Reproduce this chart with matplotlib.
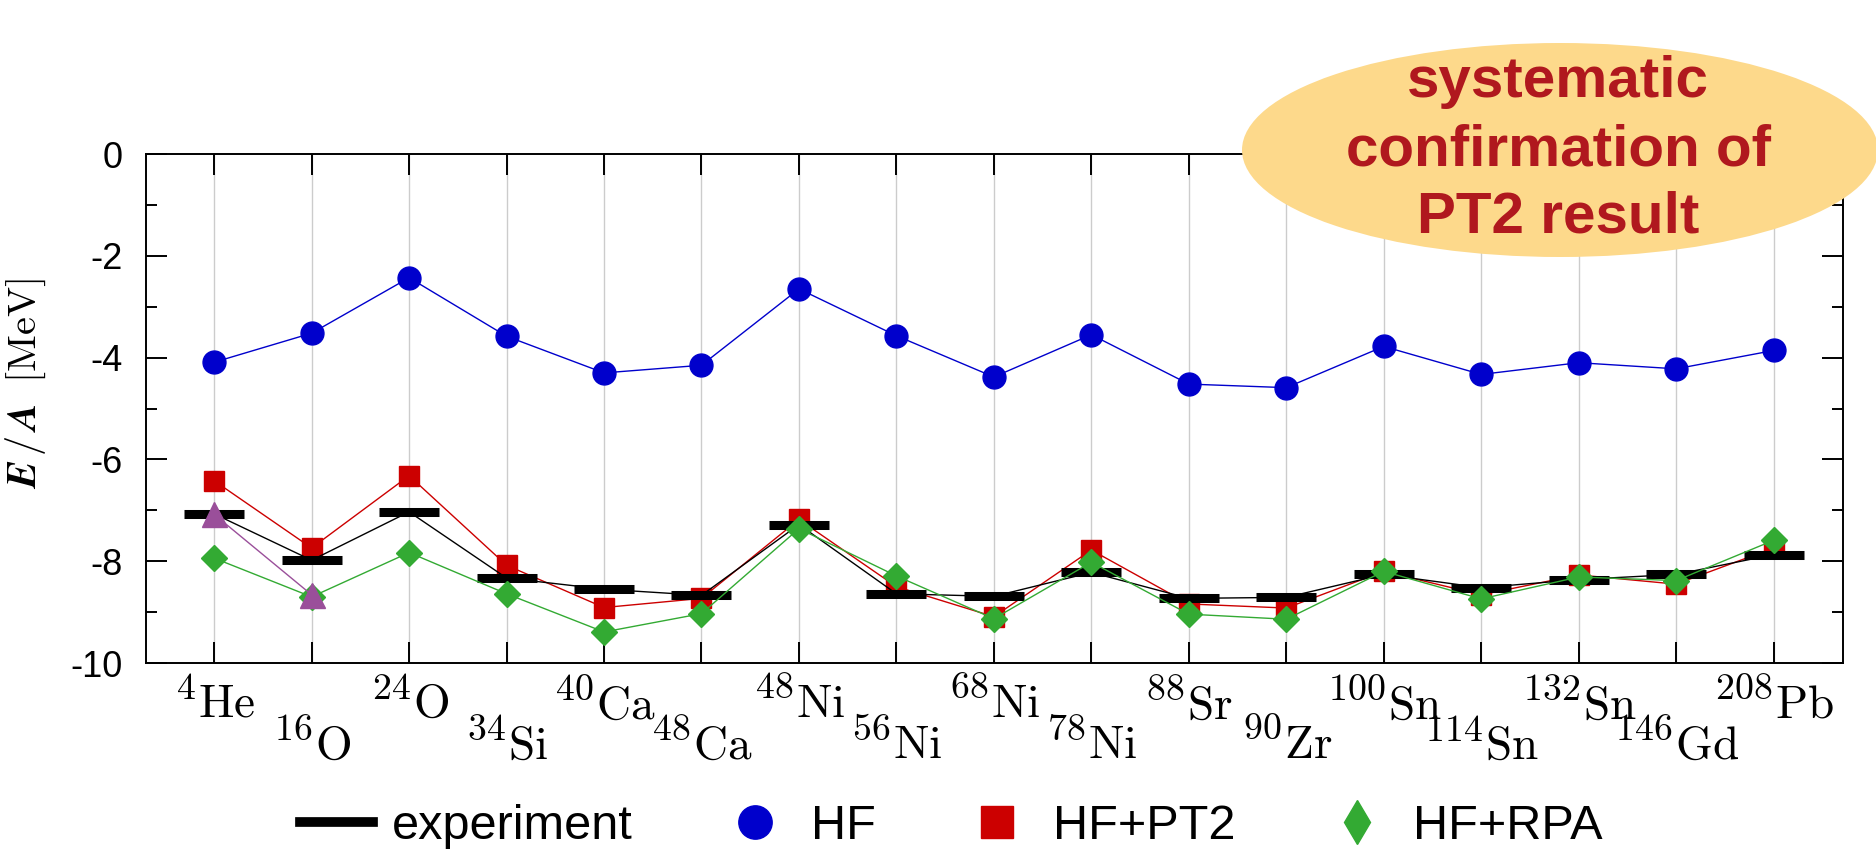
import numpy as np
import matplotlib
matplotlib.use("Agg")
import matplotlib.pyplot as plt
import matplotlib._mathtext as mathtext_internal
from matplotlib.lines import Line2D
from matplotlib.patches import Ellipse

plt.rcParams['font.family'] = ['Liberation Sans', 'DejaVu Sans']
plt.rcParams['mathtext.fontset'] = 'cm'
plt.rcParams['axes.unicode_minus'] = False
# mass numbers are drawn rather large in the original
mathtext_internal.SHRINK_FACTOR = 0.8

# nuclei on the x axis
mass = ['4', '16', '24', '34', '40', '48', '48', '56', '68', '78', '88', '90', '100', '114', '132', '146', '208']
elem = ['He', 'O', 'O', 'Si', 'Ca', 'Ca', 'Ni', 'Ni', 'Ni', 'Ni', 'Sr', 'Zr', 'Sn', 'Sn', 'Sn', 'Gd', 'Pb']

# energy per nucleon [MeV]
exp_vals = [-7.07, -7.98, -7.03, -8.33, -8.55, -8.67, -7.28, -8.64, -8.69, -8.22, -8.73, -8.71, -8.26, -8.52, -8.36, -8.26, -7.87]
hf_vals = [-4.09, -3.52, -2.43, -3.58, -4.30, -4.15, -2.65, -3.57, -4.38, -3.55, -4.52, -4.59, -3.78, -4.33, -4.10, -4.22, -3.86]
pt2_vals = [-6.42, -7.74, -6.32, -8.08, -8.91, -8.73, -7.18, -8.50, -9.09, -7.78, -8.84, -8.92, -8.20, -8.66, -8.27, -8.45, -7.74]
rpa_vals = [-7.94, -8.70, -7.83, -8.64, -9.39, -9.03, -7.36, -8.29, -9.13, -8.02, -9.04, -9.14, -8.20, -8.74, -8.31, -8.38, -7.59]
# extra calculation only for the two lightest nuclei
extra_idx = [0, 1]
extra_vals = [-7.08, -8.66]

labels = [r'$^{\mathbf{%s}}\mathrm{%s}$' % (m, e) for m, e in zip(mass, elem)]
x = np.arange(len(labels))

fig = plt.figure(figsize=(18.76, 8.51), dpi=100)
ax = fig.add_axes([0.0778, 0.2209, 0.9045, 0.5981])

ax.plot(x, pt2_vals, color='#CC0000', lw=1.0, marker='s', ms=14.4, zorder=3)
ax.plot(x, exp_vals, color='black', lw=1.0, marker='_', ms=43, mew=6.5, zorder=4)
ax.plot(x, hf_vals, color='#0000CC', lw=1.0, marker='o', ms=16.5, zorder=4)
ax.plot(x, rpa_vals, color='#33AA33', lw=1.0, marker='D', ms=13.7, zorder=5)
ax.plot(extra_idx, extra_vals, color='#9A4F9A', lw=1.0, marker='^', ms=18, zorder=6)

ax.set_xlim(-0.70, 16.71)
ax.set_ylim(-10, 0)

# alternate tick labels on two rows
ax.set_xticks(x[::2], labels[::2])
ax.set_xticks(x[1::2], labels[1::2], minor=True)
ax.tick_params(axis='x', which='both', direction='in', length=15, width=1.4,
               top=True, labelsize=34)
ax.tick_params(axis='x', which='major', pad=12)
ax.tick_params(axis='x', which='minor', pad=41)

ax.set_yticks(np.arange(-10, 1, 2))
ax.set_yticks(np.arange(-9, 0, 2), minor=True)
ax.tick_params(axis='y', which='both', direction='in', right=True, width=1.4, labelsize=26, pad=17)
ax.tick_params(axis='y', which='major', length=15)
ax.tick_params(axis='y', which='minor', length=8)

for s in ax.spines.values():
    s.set_linewidth(1.4)

ax.grid(axis='x', which='both', color='#cccccc', lw=1.0)
ax.set_axisbelow(True)

ax.set_ylabel(r'$\boldsymbol{E\,/\,A}\;\;\mathrm{[MeV]}$', fontsize=29)
ax.yaxis.set_label_coords(-0.058, 0.55)

# legend
handles = [
    Line2D([], [], color='black', lw=7),
    Line2D([], [], color='#0000CC', ls='none', marker='o', ms=24),
    Line2D([], [], color='#CC0000', ls='none', marker='s', ms=23),
    Line2D([], [], color='#33AA33', ls='none', marker='d', ms=22),
]
fig.legend(handles, ['experiment', 'HF', 'HF+PT2', 'HF+RPA'], ncol=4, frameon=False,
           loc='center', bbox_to_anchor=(0.507, 0.029), fontsize=35,
           handlelength=1.5, handletextpad=0.4, columnspacing=1.75, borderpad=0)

# annotation bubble
fig.add_artist(Ellipse((1560 / 1876, 1 - 150 / 851), 636 / 1876, 214 / 851,
                       transform=fig.transFigure, facecolor='#FDD98B', edgecolor='none', zorder=10))
fig.text(1558 / 1876, 1 - 150 / 851, 'systematic\nconfirmation of\nPT2 result',
         ha='center', va='center', fontsize=42, fontweight='bold', color='#B0181E',
         linespacing=1.33, zorder=11)

fig.savefig('out.png', dpi=100)
